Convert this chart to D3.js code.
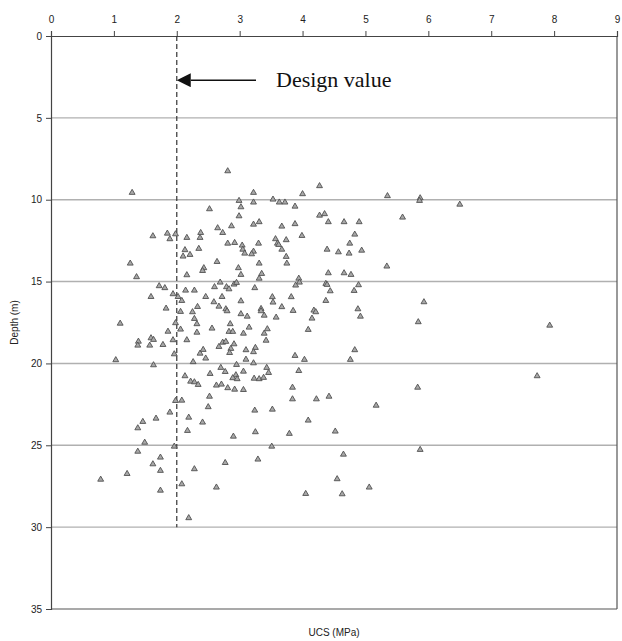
<!DOCTYPE html>
<html lang="en">
<head>
    <meta charset="UTF-8">
    <title>UCS vs Depth</title>
    <script src="https://d3js.org/d3.v7.min.js"></script>
    <style>
        body { margin: 0; background: #fff; }
        .tick text { font-family: "Liberation Sans", Arial, sans-serif; font-size: 10px; fill: #222; }
    </style>
</head>
<body>
    <svg id="chart" width="622" height="641"></svg>
    <script>
        // UCS (MPa) and depth (m), point by point
        var ucs = [
            2.81, 1.29, 2.99, 2.52, 3.02, 2.99, 2.65, 2.87, 2.73, 2.38, 1.85, 1.98, 1.62, 1.89, 2.16, 2.37,
            2.81, 2.92, 3.04, 3.05, 3.08, 2.13, 2.35, 2.21, 2.10, 2.64, 1.26, 2.43, 2.41, 2.98, 3.02, 2.16,
            1.36, 1.72, 1.81, 2.14, 2.28, 2.60, 2.69, 2.79, 2.83, 2.91, 2.95, 1.59, 1.94, 2.02, 2.46, 2.72,
            4.27, 3.22, 4.00, 5.35, 5.87, 5.86, 3.22, 3.53, 3.63, 3.72, 3.88, 4.27, 4.35, 5.59, 3.22, 3.31,
            3.67, 3.88, 4.41, 4.66, 4.90, 3.99, 4.83, 3.57, 3.74, 3.60, 3.62, 3.30, 4.75, 3.22, 3.19, 3.67,
            4.39, 4.57, 4.74, 4.94, 3.74, 3.31, 3.75, 5.34, 3.35, 3.31, 4.41, 4.66, 4.77, 3.94, 3.95, 3.89,
            4.37, 4.39, 4.89, 3.24, 4.44, 4.82, 3.52, 3.82, 6.50,
            2.08, 2.59, 2.67, 2.78, 2.80, 3.02, 1.83, 2.06, 2.25, 2.33, 3.02, 3.12, 1.10, 1.98, 2.28, 2.32,
            2.85, 2.56, 2.83, 2.89, 3.06, 3.15, 1.86, 2.06, 2.32, 1.59, 1.63, 1.39, 1.38, 1.57, 1.78, 1.94,
            2.16, 2.73, 2.78, 2.91, 2.67, 2.86, 2.84, 3.10, 2.37, 2.42, 2.46, 1.96, 3.10, 1.03, 1.63, 2.26,
            2.95, 2.70, 2.77, 3.06, 2.53, 2.13, 2.94, 2.89, 2.96, 2.22, 2.28, 2.34, 2.63, 2.71, 2.81, 2.92,
            3.06, 2.52, 1.98, 2.08, 2.50, 1.89, 1.67, 1.46, 2.19, 2.41, 1.38, 2.17, 2.90,
            3.53, 3.67, 3.85, 3.34, 3.34, 3.39, 3.58, 4.18, 4.21, 4.15, 4.37, 4.88, 4.92, 5.93, 5.84, 3.44,
            3.39, 3.42, 4.09, 3.25, 3.22, 3.22, 3.88, 4.03, 4.83, 4.76, 3.43, 3.46, 3.94, 3.23, 3.31, 3.38,
            3.84, 5.83, 3.84, 4.22, 4.42, 5.17, 3.24, 3.52, 4.09, 3.25, 3.79, 4.52,
            7.93, 7.73,
            1.49, 1.96, 1.38, 1.74, 1.62, 2.77, 1.74, 2.28, 1.21, 0.79, 2.08, 2.63, 1.74, 2.19,
            3.51, 5.87, 3.29, 4.65, 4.55, 5.06, 4.05, 4.63
        ];
        var depth = [
            8.25, 9.57, 10.06, 10.57, 10.45, 11.00, 11.73, 11.61, 12.02, 12.02, 12.06, 12.10, 12.22, 12.40, 12.32, 12.32,
            12.67, 12.63, 12.79, 13.04, 13.28, 13.07, 12.99, 13.36, 13.46, 13.79, 13.89, 14.17, 14.34, 14.17, 14.58, 14.60,
            14.72, 15.27, 15.39, 15.54, 15.54, 15.33, 15.05, 15.33, 15.46, 15.17, 15.07, 15.93, 15.76, 15.93, 15.93, 15.93,
            9.16, 9.57, 9.65, 9.77, 9.90, 10.06, 10.16, 9.98, 10.16, 10.16, 10.41, 10.96, 10.87, 11.08, 11.51, 11.36,
            11.63, 11.48, 11.36, 11.36, 11.36, 12.20, 12.12, 12.40, 12.46, 12.67, 12.75, 12.67, 12.67, 13.16, 13.32, 13.04,
            13.04, 13.20, 13.28, 13.10, 13.48, 13.89, 13.89, 14.07, 14.52, 14.81, 14.48, 14.48, 14.58, 14.81, 15.05, 15.23,
            15.13, 15.19, 15.21, 15.39, 15.58, 15.56, 15.94, 15.94, 10.29,
            16.17, 16.25, 16.52, 16.68, 16.80, 16.19, 16.64, 16.84, 16.86, 16.54, 16.98, 17.13, 17.56, 17.53, 17.27, 17.59,
            17.59, 17.86, 18.06, 18.06, 18.17, 17.80, 18.05, 17.92, 18.11, 18.45, 18.55, 18.66, 18.90, 18.90, 18.86, 18.57,
            18.57, 18.72, 18.67, 18.82, 18.98, 19.10, 19.35, 19.18, 19.39, 19.16, 19.69, 19.43, 19.76, 19.79, 20.10, 19.91,
            20.08, 20.26, 20.51, 20.49, 20.63, 20.77, 20.71, 20.89, 20.95, 21.10, 21.14, 21.30, 21.34, 21.28, 21.50, 21.59,
            21.61, 22.02, 22.28, 22.26, 22.66, 22.99, 23.36, 23.56, 23.30, 23.60, 23.95, 24.11, 24.46,
            16.27, 16.55, 16.78, 16.66, 16.80, 17.07, 17.19, 16.76, 16.86, 17.25, 16.17, 16.68, 17.13, 16.25, 17.47, 17.90,
            18.17, 18.60, 17.94, 19.04, 19.30, 19.98, 19.53, 19.77, 19.18, 19.77, 20.26, 20.57, 20.45, 20.92, 20.95, 20.87,
            21.47, 21.47, 22.18, 22.18, 22.02, 22.57, 22.87, 22.81, 23.48, 24.19, 24.29, 24.15,
            17.68, 20.77,
            24.83, 25.07, 25.38, 25.74, 26.15, 26.07, 26.55, 26.45, 26.74, 27.09, 27.37, 27.57, 27.76, 29.44,
            25.07, 25.27, 25.86, 25.56, 27.06, 27.57, 27.96, 27.98
        ];
        var xTicks = [0, 1, 2, 3, 4, 5, 6, 7, 8, 9];
        var yTicks = [0, 5, 10, 15, 20, 25, 30, 35];
        var designValue = 2;
        var designDepth = 30;   // dashed line stops here
        var arrowDepth = 2.7;

        var svg = d3.select("#chart");
        var x = d3.scaleLinear().domain([0, 9]).range([51, 617]);
        var y = d3.scaleLinear().domain([0, 35]).range([36, 609]);

        // horizontal grid lines
        svg.append("g")
            .selectAll("line")
            .data(yTicks.filter(d => d > 0 && d < 35))
            .enter()
            .append("line")
            .attr("x1", x(0)).attr("x2", x(9))
            .attr("y1", d => y(d)).attr("y2", d => y(d))
            .attr("stroke", "#b0b0b0")
            .attr("stroke-width", 1.4);

        // frame: bottom and right
        svg.append("line")
            .attr("x1", x(0)).attr("x2", x(9)).attr("y1", y(35)).attr("y2", y(35))
            .attr("stroke", "#555").attr("stroke-width", 1.2);
        svg.append("line")
            .attr("x1", x(9)).attr("x2", x(9)).attr("y1", y(0)).attr("y2", y(35))
            .attr("stroke", "#555").attr("stroke-width", 1.2);

        // axes
        var xAxis = svg.append("g")
            .attr("transform", "translate(0," + y(0) + ")")
            .call(d3.axisTop(x).tickValues(xTicks).tickSize(5).tickPadding(8).tickFormat(d3.format("d")));
        var yAxis = svg.append("g")
            .attr("transform", "translate(" + x(0) + ",0)")
            .call(d3.axisLeft(y).tickValues(yTicks).tickSize(5).tickPadding(4).tickFormat(d3.format("d")));
        [xAxis, yAxis].forEach(function (a) {
            a.select(".domain").attr("stroke", "#444").attr("stroke-width", 1.2);
            a.selectAll(".tick line").attr("stroke", "#444");
        });

        // design value dashed line
        svg.append("line")
            .attr("x1", x(designValue)).attr("x2", x(designValue))
            .attr("y1", y(0)).attr("y2", y(designDepth))
            .attr("stroke", "#333")
            .attr("stroke-width", 1.2)
            .attr("stroke-dasharray", "5,3");

        // arrow + label
        svg.append("defs").append("marker")
            .attr("id", "head")
            .attr("viewBox", "0 0 10 10")
            .attr("refX", 0).attr("refY", 5)
            .attr("markerWidth", 15).attr("markerHeight", 14)
            .attr("markerUnits", "userSpaceOnUse")
            .attr("orient", "auto-start-reverse")
            .append("path")
            .attr("d", "M0,0 L10,5 L0,10 Z")
            .attr("fill", "#111");
        svg.append("line")
            .attr("x1", 256).attr("x2", x(designValue) + 14)
            .attr("y1", y(arrowDepth)).attr("y2", y(arrowDepth))
            .attr("stroke", "#111")
            .attr("stroke-width", 1.6)
            .attr("marker-end", "url(#head)");
        svg.append("text")
            .attr("x", 276)
            .attr("y", y(arrowDepth) + 7)
            .style("font-family", "'Liberation Serif', 'Times New Roman', serif")
            .style("font-size", "22px")
            .style("fill", "#111")
            .text("Design value");

        // points
        var tri = d3.symbol().type(d3.symbolTriangle).size(15);
        svg.append("g")
            .selectAll("path")
            .data(ucs.map((u, i) => [u, depth[i]]))
            .enter()
            .append("path")
            .attr("d", tri)
            .attr("transform", d => "translate(" + x(d[0]) + "," + y(d[1]) + ")")
            .attr("fill", "#a8a8a8")
            .attr("stroke", "#505050")
            .attr("stroke-width", 0.9);

        // axis titles
        svg.append("text")
            .attr("x", (x(0) + x(9)) / 2)
            .attr("y", 636)
            .attr("text-anchor", "middle")
            .style("font-family", "'Liberation Sans', Arial, sans-serif")
            .style("font-size", "10px")
            .style("fill", "#222")
            .text("UCS (MPa)");
        svg.append("text")
            .attr("transform", "translate(18," + (y(17.5)) + ") rotate(-90)")
            .attr("text-anchor", "middle")
            .style("font-family", "'Liberation Sans', Arial, sans-serif")
            .style("font-size", "10px")
            .style("fill", "#222")
            .text("Depth (m)");
    </script>
</body>
</html>
